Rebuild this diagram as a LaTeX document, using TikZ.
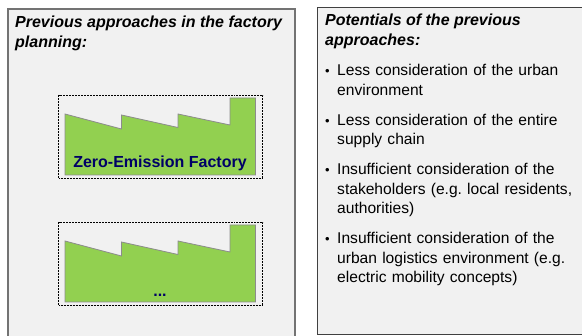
\documentclass[tikz,border=0pt]{standalone}
\usepackage{fontspec}
\setmainfont{Liberation Sans}
\definecolor{panelgray}{HTML}{F1F1F1}
\definecolor{factorygreen}{HTML}{92D050}
\definecolor{labelblue}{HTML}{000066}
\tikzset{
    panel/.style={fill=panelgray},
    oldpanel/.style={panel, draw=black!55, line width=1.5pt},
    newpanel/.style={panel, draw=black!75, line width=1pt},
    panelhead/.style={anchor=base west, inner sep=0pt, align=left, font=\fontsize{16}{20}\selectfont\bfseries\itshape},
    bulletitem/.style={anchor=base west, inner sep=0pt, align=left, text width=240pt, font=\frenchspacing\fontsize{15.6}{19.5}\selectfont},
    bulletdot/.style={anchor=base west, inner sep=0pt, font=\fontsize{13}{14}\selectfont},
    factory/.style={draw=black!45, fill=factorygreen, line width=.8pt},
    factorybox/.style={draw=black, densely dotted, line width=.5pt},
    factorylabel/.style={text=labelblue, inner sep=0pt, font=\fontsize{16}{18}\selectfont\bfseries}
}
\begin{document}
\begin{tikzpicture}[x=1pt, y=-1pt]
\useasboundingbox (0,0) rectangle (582,336);

% left panel
\draw[oldpanel] (8,9) rectangle (295,345);
\node[panelhead] (oldhead) at (15,47.5) {Previous approaches in the factory\\planning:};

\begin{scope}
    \draw[factorybox] (58.5,95) rectangle (262.5,178.5);
    \draw[factory] (65,114) -- (121.5,129) -- (121.5,115) -- (178,127.5) -- (178,114) -- (230,125) -- (230,98) -- (255.5,98) -- (255.5,175) -- (65,175) -- cycle;
    \node[factorylabel] (zero) at (160,163.5) {Zero-Emission Factory};
\end{scope}

\begin{scope}[yshift=-127pt]
    \draw[factorybox] (58.5,95) rectangle (262.5,178.5);
    \draw[factory] (65,114) -- (121.5,129) -- (121.5,115) -- (178,127.5) -- (178,114) -- (230,125) -- (230,98) -- (255.5,98) -- (255.5,175) -- (65,175) -- cycle;
    \node[factorylabel] (more) at (160,168.5) {...};
\end{scope}

% right panel
\draw[newpanel] (317,7.5) rectangle (590,335);
\node[panelhead] (newhead) at (325,46) {Potentials of the previous\\approaches:};

\node[bulletdot] (dota) at (325,76) {•};
\node[bulletitem] (itema) at (337,76) {Less consideration of the urban\\environment};
\node[bulletdot] (dotb) at (325,125.5) {•};
\node[bulletitem] (itemb) at (337,125.5) {Less consideration of the entire\\supply chain};
\node[bulletdot] (dotc) at (325,175) {•};
\node[bulletitem] (itemc) at (337,175) {Insufficient consideration of the\\stakeholders (e.g. local residents,\\authorities)};
\node[bulletdot] (dotd) at (325,244) {•};
\node[bulletitem] (itemd) at (337,244) {Insufficient consideration of the\\urban logistics environment (e.g.\\electric mobility concepts)};
\end{tikzpicture}
\end{document}
